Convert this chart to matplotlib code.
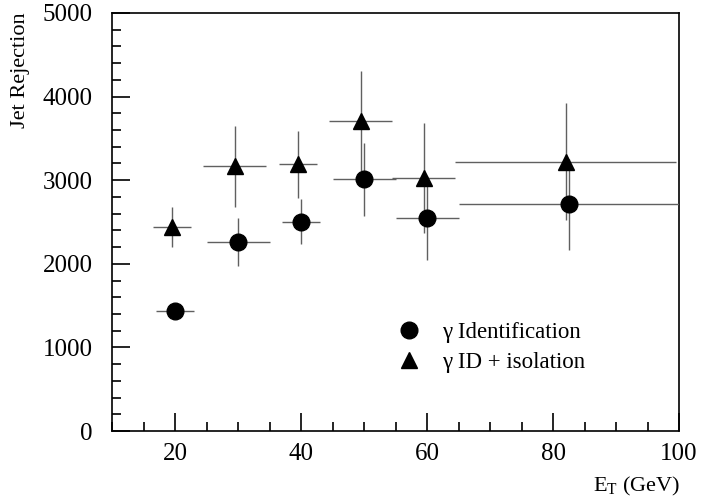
import matplotlib
matplotlib.use("Agg")
import matplotlib.pyplot as plt
from matplotlib.ticker import MultipleLocator

plt.rcParams['font.family'] = ['Liberation Serif', 'DejaVu Serif']
plt.rcParams['mathtext.fontset'] = 'custom'
plt.rcParams['mathtext.rm'] = 'Liberation Serif'

# gamma identification (circles)
id_et = [20, 30, 40, 50, 60, 82.5]
id_et_err = [3, 5, 3, 5, 5, 17.5]
id_rej = [1430, 2260, 2505, 3010, 2545, 2710]
id_rej_err = [50, 290, 270, 435, 500, 545]

# gamma ID + isolation (triangles)
iso_et = [19.5, 29.5, 39.5, 49.5, 59.5, 82]
iso_et_err = [3, 5, 3, 5, 5, 17.5]
iso_rej = [2440, 3165, 3190, 3712, 3030, 3221]
iso_rej_err = [240, 480, 400, 600, 660, 700]

fig = plt.figure(figsize=(7.01, 5.0), dpi=100)
ax = fig.add_axes([112/701, 69/500, 567/701, 418/500])

err_col = '#606060'
c1 = ax.errorbar(id_et, id_rej, xerr=id_et_err, yerr=id_rej_err, fmt='o',
                 color='black', ecolor=err_col, elinewidth=1.0, capsize=0,
                 markersize=12, zorder=3)
c2 = ax.errorbar(iso_et, iso_rej, xerr=iso_et_err, yerr=iso_rej_err, fmt='^',
                 color='black', ecolor=err_col, elinewidth=1.0, capsize=0,
                 markersize=11, zorder=3)

ax.set_xlim(10, 100)
ax.set_ylim(0, 5000)
ax.xaxis.set_major_locator(MultipleLocator(20))
ax.xaxis.set_minor_locator(MultipleLocator(5))
ax.yaxis.set_major_locator(MultipleLocator(1000))
ax.yaxis.set_minor_locator(MultipleLocator(200))
ax.tick_params(which='both', direction='in', top=False, right=False,
               labelsize=18, width=1.2)
ax.tick_params(which='major', length=13)
ax.tick_params(which='minor', length=6.5)
ax.tick_params(axis='y', pad=14)
ax.tick_params(axis='x', pad=9)
for s in ax.spines.values():
    s.set_linewidth(1.2)

leg = ax.legend([c1[0], c2[0]], [u'\u03b3 Identification', u'\u03b3 ID + isolation'],
                loc='center left', bbox_to_anchor=(0.50, 0.199), frameon=False,
                fontsize=16.5, handlelength=1.2, handletextpad=0.85,
                labelspacing=0.4, borderpad=0, borderaxespad=0)

fig.text(21/701, 1 - 12/500, 'Jet Rejection', rotation=90, ha='center',
         va='top', fontsize=16)
fig.text(680/701, 14/500, r'E$_{\rm T}$ (GeV)', ha='right', va='center',
         fontsize=16)

fig.savefig('out.png', dpi=100)
